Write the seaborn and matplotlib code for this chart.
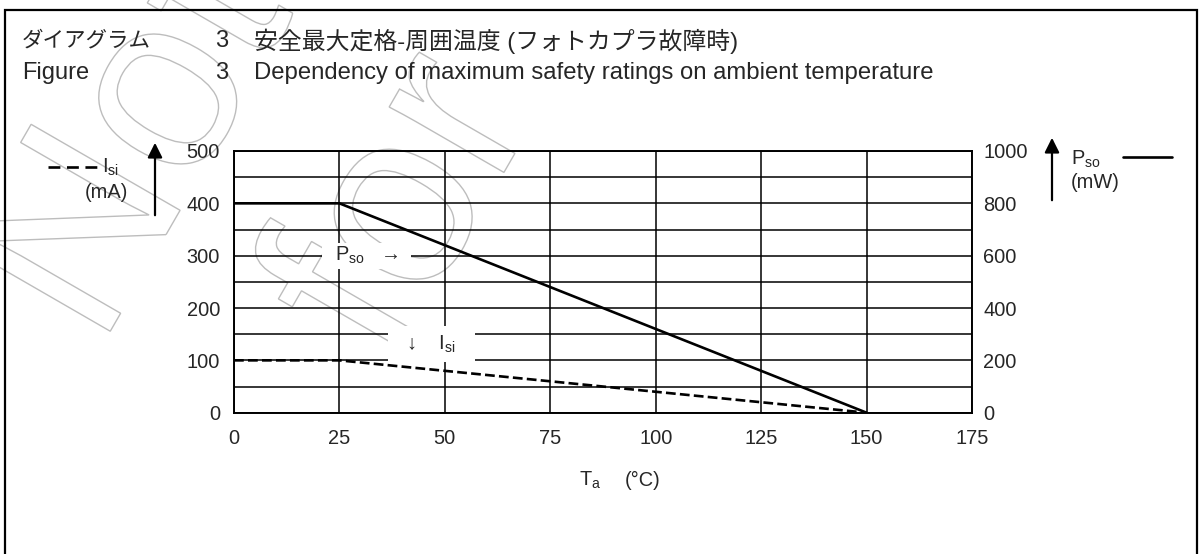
import numpy as np
import matplotlib
matplotlib.use("Agg")
import matplotlib.pyplot as plt
import seaborn as sns
from matplotlib.lines import Line2D
from matplotlib.patches import Rectangle, PathPatch
from matplotlib.textpath import TextPath
from matplotlib.font_manager import FontProperties
from matplotlib.transforms import Affine2D

# data
ta_isi = [0, 25, 150]
isi_ma = [100, 100, 0]
ta_pso = [0, 25, 150]
pso_mw = [800, 800, 0]

x_ticks = [0, 25, 50, 75, 100, 125, 150, 175]
y_left_ticks = [0, 100, 200, 300, 400, 500]
y_left_minor = [50, 150, 250, 350, 450]
y_right_ticks = [0, 200, 400, 600, 800, 1000]

title_jp = "安全最大定格-周囲温度 (フォトカプラ故障時)"
title_en = "Dependency of maximum safety ratings on ambient temperature"

sns.set_style("white")
FAMILY = ["Liberation Sans", "Noto Sans CJK JP", "DejaVu Sans"]
plt.rcParams["font.family"] = FAMILY
plt.rcParams["mathtext.default"] = "regular"

W, H = 1199, 554
fig = plt.figure(figsize=(W / 100, H / 100), dpi=100)
fig.patch.set_facecolor("white")


def px(x, y):
    # reference pixel (top-left origin) -> figure fraction
    return x / W, 1 - y / H


# watermark (outlined text), origins in pixels from bottom-left
fp = FontProperties(family="Liberation Sans")
for word, (ox, oy) in [("Not", (100, 205)), ("for", (391, 186))]:
    tp = TextPath((0, 0), word, size=250, prop=fp)
    tr = Affine2D().rotate_deg(60).translate(ox, oy) + Affine2D().scale(1 / W, 1 / H) + fig.transFigure
    fig.add_artist(PathPatch(tp, fc="none", ec="#bdbdbd", lw=1.0, transform=tr, zorder=-5))

# outer frame
fig.add_artist(Rectangle(px(5, 560), (1197 - 5) / W, (560 - 10) / H, fill=False,
                         ec="black", lw=1.6, transform=fig.transFigure, zorder=-4))

# titles
for y, a, b, fs_a in [(41, "ダイアグラム", title_jp, 15.5), (73, "Figure", title_en, 17)]:
    fig.text(*px(22, y), a, fontsize=fs_a, va="center", ha="left")
    fig.text(*px(222, y), "3", fontsize=17, va="center", ha="center")
    fig.text(*px(254, y), b, fontsize=17.2, va="center", ha="left")

# axes
ax = fig.add_axes([234 / W, 1 - 412.7 / H, 738 / W, 261.7 / H])
ax.set_facecolor("none")
ax2 = ax.twinx()

sns.lineplot(x=ta_isi, y=isi_ma, ax=ax, color="black", lw=1.9, linestyle="--", zorder=4)
sns.lineplot(x=ta_pso, y=pso_mw, ax=ax2, color="black", lw=1.9, zorder=4)

ax.set_xlim(0, 175)
ax.set_ylim(0, 500)
ax2.set_ylim(0, 1000)
ax.set_xticks(x_ticks)
ax.set_yticks(y_left_ticks)
ax.set_yticks(y_left_minor, minor=True)
ax2.set_yticks(y_right_ticks)
ax.grid(True, axis="y", which="both", color="black", lw=1.1)
ax.grid(True, axis="x", which="major", color="black", lw=1.1)
ax2.grid(False)
ax.tick_params(axis="both", which="both", length=0, labelsize=14.4)
ax.tick_params(axis="y", pad=10)
ax.tick_params(axis="x", pad=12)
ax2.tick_params(axis="y", length=0, labelsize=14.4, pad=8)
for a in (ax, ax2):
    for s in a.spines.values():
        s.set_color("black")
        s.set_linewidth(1.2)
    a.set_xlabel("")
    a.set_ylabel("")

# in-plot labels
ax.text(31.4, 300, "  P$_{so}$   \u2192  ", fontsize=14.4, ha="center", va="center",
        bbox=dict(boxstyle="square,pad=0.12", fc="white", ec="none"), zorder=5)
ax.text(46.8, 131, "  \u2193    I$_{si}$   ", fontsize=14.4, ha="center", va="center",
        bbox=dict(boxstyle="square,pad=0.35", fc="white", ec="none"), zorder=5)

# x axis label
fig.text(*px(590, 480), "T$_a$", fontsize=14.4, ha="center", va="center")
fig.text(*px(643, 480), "(°C)", fontsize=14.4, ha="center", va="center")

# left axis legend/unit
fig.add_artist(Line2D([48 / W, 97 / W], [1 - 167 / H] * 2, color="black", lw=1.9,
                      linestyle=(0, (4.5, 2.5)), transform=fig.transFigure))
fig.text(*px(102, 167), "I$_{si}$", fontsize=14.4, ha="left", va="center")
fig.text(*px(106, 192), "(mA)", fontsize=14.4, ha="center", va="center")
ax.annotate("", xy=(155, H - 140), xytext=(155, H - 218), xycoords="figure pixels",
            arrowprops=dict(arrowstyle="-|>", color="black", lw=1.6, mutation_scale=22))

# right axis legend/unit
ax.annotate("", xy=(1052, H - 135), xytext=(1052, H - 203), xycoords="figure pixels",
            arrowprops=dict(arrowstyle="-|>", color="black", lw=1.6, mutation_scale=22))
fig.text(*px(1071, 159), "P$_{so}$", fontsize=14.4, ha="left", va="center")
fig.text(*px(1071, 183), "(mW)", fontsize=14.4, ha="left", va="center")
fig.add_artist(Line2D([1123 / W, 1172 / W], [1 - 157 / H] * 2, color="black", lw=1.9,
                      transform=fig.transFigure))

fig.savefig("out.png", dpi=100)
